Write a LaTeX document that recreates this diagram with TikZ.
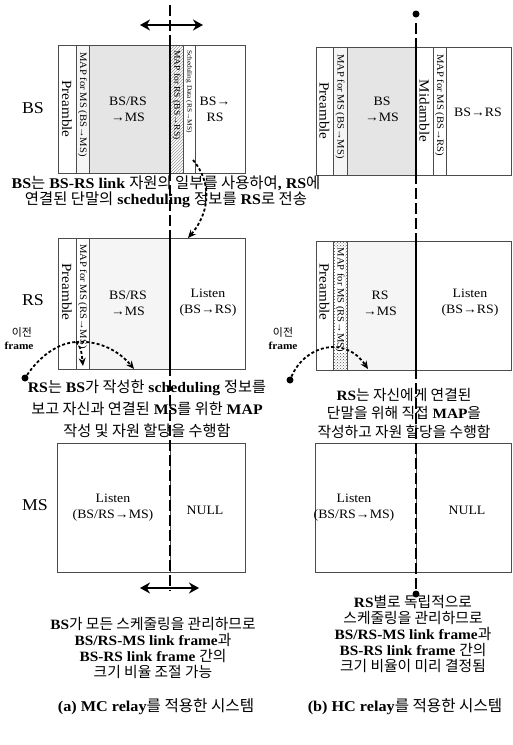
\documentclass[tikz,border=0pt]{standalone}
\usepackage{fontspec}
\setmainfont{Liberation Serif}[FakeStretch=1.08]
\newfontfamily\kr{Noto Sans CJK KR}[Scale=1.04]
\usetikzlibrary{arrows.meta,patterns}
\newcommand\K[1]{{\kr\mdseries #1}}
\newcommand\fsz[2]{\fontsize{#1}{#2}\selectfont}
\begin{document}
\begin{tikzpicture}[x=1pt,y=-1pt,
  frm/.style={draw=black!70,line width=0.6pt},
  dense/.style={frm,fill=black!10},
  light/.style={frm,fill=black!4},
  hatch/.style={frm,pattern=north east lines,pattern color=black!40},
  dark/.style={frm,pattern=crosshatch dots,pattern color=black!70},
  vlab/.style={rotate=-90,inner sep=0pt},
  lab/.style={align=center,inner sep=0pt,font=\fsz{12.8}{16}},
  rowlab/.style={inner sep=0pt,font=\fsz{16.5}{18}},
  note/.style={align=center,inner sep=0pt},
  axisline/.style={line width=1.8pt,dash pattern=on 11pt off 4pt},
  solidline/.style={line width=1.8pt},
  dotarr/.style={line width=1.8pt,dash pattern=on 3pt off 2.2pt,-{Stealth[length=8pt,width=7pt]}},
  dotline/.style={line width=1.8pt,dash pattern=on 3pt off 2.2pt},
  dblarr/.style={line width=2.4pt,{Stealth[length=10pt,width=11pt]}-{Stealth[length=10pt,width=11pt]}},
  blob/.style={circle,fill=black,inner sep=0pt,minimum size=7pt},
  prev/.style={inner sep=0pt,font=\bfseries\fsz{10.5}{11}}
]
\useasboundingbox[fill=white] (0,0) rectangle (512,745);

% ---------- left BS frame
\draw[frm] (58,45) rectangle (76,173);
\draw[light] (76,45) rectangle (89,173);
\draw[dense] (89,45) rectangle (170,173);
\draw[hatch] (170,45) rectangle (183,173);
\draw[frm] (183,45) rectangle (195,173);
\draw[frm] (195,45) rectangle (245,173);
\node[vlab,font=\fsz{14}{14}] (bsPreL) at (67,109) {Preamble};
\node[vlab,font=\fsz{9.8}{10},anchor=west] (bsMapL) at (82.5,52) {MAP for MS (BS→MS)};
\node[vlab,font=\fsz{8.8}{9},anchor=west] (bsMapRL) at (176.5,50) {MAP for RS (BS→RS)};
\node[vlab,font=\fsz{6.8}{7},anchor=west] (bsSchL) at (189,50) {Scheduling Data (RS→MS)};
\node[lab] (bsMainL) at (128,109) {BS/RS\\→MS};
\node[lab] (bsRsL) at (215,109) {BS→\\RS};

% ---------- right BS frame
\draw[frm] (316,47) rectangle (333,175);
\draw[light] (333,47) rectangle (347,175);
\draw[dense] (347,47) rectangle (416,175);
\draw[frm] (416,47) rectangle (433,175);
\draw[frm] (433,47) rectangle (446,175);
\draw[frm] (446,47) rectangle (511,175);
\node[vlab,font=\fsz{14}{14}] (bsPreR) at (324.5,111) {Preamble};
\node[vlab,font=\fsz{9.8}{10},anchor=west] (bsMapR) at (340,54) {MAP for MS (BS→MS)};
\node[lab] (bsMainR) at (382,109) {BS\\→MS};
\node[vlab,font=\fsz{14}{14}] (bsMid) at (424.5,111) {Midamble};
\node[vlab,font=\fsz{9.8}{10},anchor=west] (bsMapR2) at (439.5,54) {MAP for MS (BS→RS)};
\node[lab] (bsRsR) at (478,112) {BS→RS};

% ---------- left RS frame
\draw[frm] (58,238) rectangle (76,369);
\draw[frm] (76,238) rectangle (89,369);
\draw[light] (89,238) rectangle (170,369);
\draw[frm] (170,238) rectangle (245,369);
\node[vlab,font=\fsz{14}{14}] (rsPreL) at (67,292) {Preamble};
\node[vlab,font=\fsz{9.8}{10},anchor=west] (rsMapL) at (82.5,244) {MAP for MS (RS→MS)};
\node[lab] (rsMainL) at (128,303) {BS/RS\\→MS};
\node[lab] (rsLisL) at (208,303) {Listen\\(BS→RS)};

% ---------- right RS frame
\draw[frm] (316,241) rectangle (333,370);
\draw[dark] (333,241) rectangle (347,370);
\draw[light] (347,241) rectangle (416,370);
\draw[frm] (416,241) rectangle (511,370);
\node[vlab,font=\fsz{14}{14}] (rsPreR) at (324.5,292) {Preamble};
\node[vlab,font=\fsz{9.8}{10},anchor=west,fill=white,inner sep=0.5pt] (rsMapR) at (340,247) {MAP for MS (RS→MS)};
\node[lab] (rsMainR) at (380,303) {RS\\→MS};
\node[lab] (rsLisR) at (470,303) {Listen\\(BS→RS)};

% ---------- MS frames
\draw[frm] (57,443) rectangle (170,572);
\draw[frm] (170,443) rectangle (245,572);
\draw[frm] (315,443) rectangle (416,572);
\draw[frm] (416,443) rectangle (511,572);
\node[lab] (msLisL) at (113,508) {Listen\\(BS/RS→MS)};
\node[lab] (msNullL) at (205,510) {NULL};
\node[lab] (msLisR) at (354,508) {Listen\\(BS/RS→MS)};
\node[lab] (msNullR) at (467,510) {NULL};

% ---------- row labels
\node[rowlab] (lbBS) at (33,108) {BS};
\node[rowlab] (lbRS) at (33,300) {RS};
\node[rowlab] (lbMS) at (35,505) {MS};

% ---------- left axis
\coordinate (aLtop) at (170,5);
\coordinate (aLbot) at (170,591);
\draw[axisline] (aLtop) -- (aLbot);
\draw[solidline] (170,45) -- (170,173);
\draw[solidline] (170,238) -- (170,369);
\coordinate (arTl) at (140,25);
\coordinate (arTr) at (203,25);
\draw[dblarr] (arTl) -- (arTr);
\coordinate (arBl) at (140,588);
\coordinate (arBr) at (199,588);
\draw[dblarr] (arBl) -- (arBr);

% ---------- right axis
\node[blob] (dotTop) at (416,14) {};
\node[blob] (dotBot) at (416,594) {};
\draw[axisline] (416,23) -- (dotBot);
\draw[solidline] (416,47) -- (416,175);
\draw[solidline] (416,241) -- (416,370);

% ---------- scheduling arrow
\coordinate (schOut) at (193,160);
\coordinate (rsIn) at (188,238);
\draw[dotarr] (schOut) .. controls (214,185) and (208,215) .. (rsIn);

% ---------- previous frame arrows
\node[prev] (prevL1) at (22,332) {\K{이전}};
\node[prev] (prevL2) at (19,346) {frame};
\node[blob] (pdL) at (25,378) {};
\coordinate (brL) at (76,342);
\coordinate (tgL1) at (83,366);
\coordinate (tgL2) at (134,369);
\draw[dotline] (pdL) .. controls (40,356) and (58,343) .. (brL);
\draw[dotarr] (brL) .. controls (81,348) .. (tgL1);
\draw[dotarr] (brL) .. controls (100,340) and (120,352) .. (tgL2);

\node[prev] (prevR1) at (283,332) {\K{이전}};
\node[prev] (prevR2) at (283,346) {frame};
\node[blob] (pdR) at (290,380) {};
\coordinate (tgR) at (368,369);
\draw[dotarr] (pdR) .. controls (305,345) and (345,335) .. (tgR);

% ---------- notes
\node[note,font=\bfseries\fsz{14.8}{15.5}] (t1) at (166,192)
  {BS\K{는} BS-RS link \K{자원의 일부를 사용하여}, RS\K{에}\\
   \K{연결된 단말의} scheduling \K{정보를} RS\K{로 전송}};
\node[note,font=\bfseries\fsz{14.6}{22}] (t2) at (147,409)
  {RS\K{는} BS\K{가 작성한} scheduling \K{정보를}\\
   \K{보고 자신과 연결된} MS\K{를 위한} MAP\\
   \K{작성 및 자원 할당을 수행함}};
\node[note,font=\bfseries\fsz{14.2}{18.5}] (t3) at (404,413)
  {RS\K{는 자신에게 연결된}\\
   \K{단말을 위해 직접} MAP\K{을}\\
   \K{작성하고 자원 할당을 수행함}};
\node[note,font=\bfseries\fsz{14.2}{16.3}] (t4) at (153,648)
  {BS\K{가 모든 스케줄링을 관리하므로}\\
   BS/RS-MS link frame\K{과}\\
   BS-RS link frame \K{간의}\\
   \K{크기 비율 조절 가능}};
\node[note,font=\bfseries\fsz{14.2}{15.8}] (t5) at (413,634)
  {RS\K{별로 독립적으로}\\
   \K{스케줄링을 관리하므로}\\
   BS/RS-MS link frame\K{과}\\
   BS-RS link frame \K{간의}\\
   \K{크기 비율이 미리 결정됨}};

% ---------- captions
\node[note,font=\bfseries\fsz{15}{16}] (capA) at (156,707) {(a) MC relay\K{를 적용한 시스템}};
\node[note,font=\bfseries\fsz{15}{16}] (capB) at (405,707) {(b) HC relay\K{를 적용한 시스템}};
\end{tikzpicture}
\end{document}
